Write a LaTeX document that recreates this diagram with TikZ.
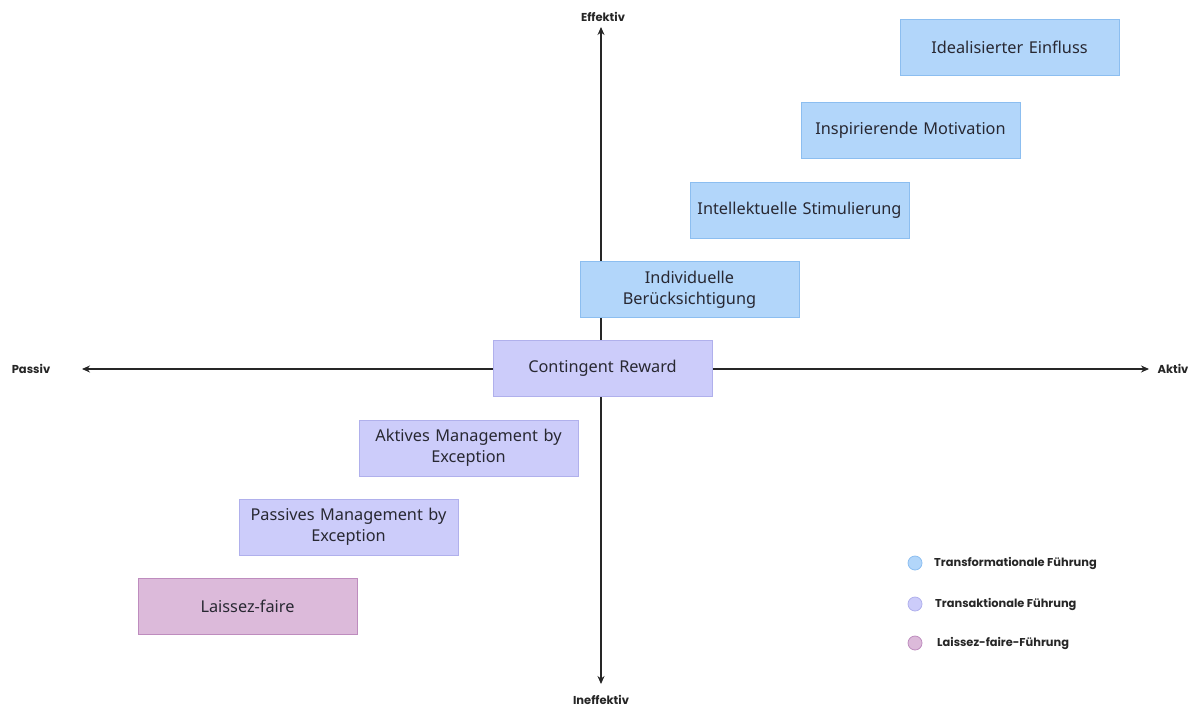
\documentclass[tikz,border=0pt]{standalone}
\usepackage{fontspec}
\setmainfont{Noto Sans}
\newfontfamily\labfont{Poppins}
\usetikzlibrary{arrows.meta}
\definecolor{tfill}{RGB}{178,214,250}
\definecolor{tdraw}{RGB}{140,190,240}
\definecolor{xfill}{RGB}{204,204,250}
\definecolor{xdraw}{RGB}{176,176,236}
\definecolor{lfill}{RGB}{220,186,218}
\definecolor{ldraw}{RGB}{190,140,190}
\definecolor{txt}{RGB}{40,40,50}
\tikzset{
  box/.style={draw, line width=0.8pt, minimum width=219pt, minimum height=56pt, align=center, text width=210pt, font=\fontsize{16.3}{21}\selectfont, text=txt, inner sep=0pt},
  tbox/.style={box, fill=tfill, draw=tdraw},
  xbox/.style={box, fill=xfill, draw=xdraw},
  lbox/.style={box, fill=lfill, draw=ldraw},
  axis/.style={line width=1.1pt, draw=black!85, -{Stealth[length=8pt,width=7pt]}},
  axlab/.style={font=\labfont\bfseries\fontsize{11.5}{13}\selectfont, text=black!85},
  leglab/.style={font=\labfont\bfseries\fontsize{11.4}{13}\selectfont, text=black!85, anchor=west, inner sep=0pt},
  dot/.style={circle, minimum size=14pt, inner sep=0pt, line width=0.8pt}
}
\begin{document}
\begin{tikzpicture}[x=1pt,y=-1pt]
\useasboundingbox (0,0) rectangle (1193,707);
\coordinate (c) at (601,369);
\coordinate (top) at (601,27);
\coordinate (bot) at (601,684);
\coordinate (left) at (82,369);
\coordinate (right) at (1149,369);
\draw[axis] (c) -- (top);
\draw[axis] (c) -- (bot);
\draw[axis] (c) -- (left);
\draw[axis] (c) -- (right);
\node[axlab] (eff) at (603,17) {Effektiv};
\node[axlab] (ineff) at (601,700) {Ineffektiv};
\node[axlab] (pas) at (31,369) {Passiv};
\node[axlab] (akt) at (1173,369) {Aktiv};

\node[tbox] (ie) at (1009.5,47) {Idealisierter Einfluss};
\node[tbox] (im) at (910.5,130) {Inspirierende Motivation};
\node[tbox] (is) at (799.5,210) {Intellektuelle Stimulierung};
\node[tbox] (ib) at (689.5,289.5) {Individuelle\\Berücksichtigung};
\node[xbox] (cr) at (602.5,368.5) {Contingent Reward};
\node[xbox] (am) at (468.5,448) {Aktives Management by\\Exception};
\node[xbox] (pm) at (348.5,527) {Passives Management by\\Exception};
\node[lbox] (lf) at (247.5,606.5) {Laissez-faire};

\node[dot, fill=tfill, draw=tdraw] (d1) at (915,563) {};
\node[dot, fill=xfill, draw=xdraw] (d2) at (915,604) {};
\node[dot, fill=lfill, draw=ldraw] (d3) at (915,643) {};
\node[leglab] (l1) at (934,563) {Transformationale Führung};
\node[leglab] (l2) at (935,604) {Transaktionale Führung};
\node[leglab] (l3) at (937,643) {Laissez-faire-Führung};
\end{tikzpicture}
\end{document}
